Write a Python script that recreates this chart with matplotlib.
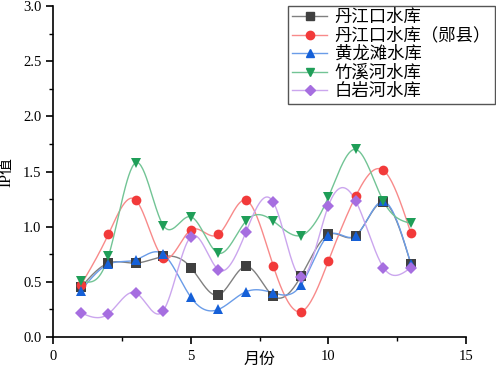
import numpy as np
import matplotlib
matplotlib.use("Agg")
import matplotlib.pyplot as plt
from matplotlib.ticker import MultipleLocator, FormatStrFormatter

plt.rcParams['font.family'] = ['Liberation Serif', 'Noto Sans CJK SC']
plt.rcParams['axes.unicode_minus'] = False

# ---------------------------------------------------------------------------
# data (IP value by month)
MONTHS = [1, 2, 3, 4, 5, 6, 7, 8, 9, 10, 11, 12, 13]
DJK = [0.45, 0.67, 0.67, 0.73, 0.63, 0.38, 0.64, 0.37, 0.55, 0.93, 0.92, 1.22, 0.66]
DJK_YX = [0.47, 0.93, 1.24, 0.72, 0.97, 0.93, 1.24, 0.64, 0.23, 0.69, 1.28, 1.51, 0.94]
HLT = [0.42, 0.66, 0.70, 0.75, 0.36, 0.25, 0.41, 0.40, 0.47, 0.92, 0.92, 1.23, 0.66]
ZXH = [0.51, 0.73, 1.58, 1.01, 1.09, 0.76, 1.05, 1.05, 0.92, 1.27, 1.70, 1.23, 1.03]
BYH = [0.22, 0.21, 0.40, 0.24, 0.91, 0.61, 0.95, 1.22, 0.54, 1.19, 1.23, 0.63, 0.63]

SERIES = [
    ("丹江口水库", DJK, "s", "#404040", "#808080"),
    ("丹江口水库（郧县）", DJK_YX, "o", "#f23a3a", "#f88a8a"),
    ("黄龙滩水库", HLT, "^", "#1560d8", "#6a9ce8"),
    ("竹溪河水库", ZXH, "v", "#1f9e58", "#72c495"),
    ("白岩河水库", BYH, "D", "#a66ee0", "#cba6ee"),
]


def natural_spline(x, y, n=400):
    """Natural cubic spline through the points (smooth line like Origin)."""
    x = np.asarray(x, float)
    y = np.asarray(y, float)
    k = len(x)
    h = np.diff(x)
    A = np.zeros((k, k))
    b = np.zeros(k)
    A[0, 0] = A[-1, -1] = 1.0
    for i in range(1, k - 1):
        A[i, i - 1] = h[i - 1]
        A[i, i] = 2 * (h[i - 1] + h[i])
        A[i, i + 1] = h[i]
        b[i] = 3 * ((y[i + 1] - y[i]) / h[i] - (y[i] - y[i - 1]) / h[i - 1])
    c = np.linalg.solve(A, b)
    xs = np.linspace(x[0], x[-1], n)
    idx = np.clip(np.searchsorted(x, xs) - 1, 0, k - 2)
    dx = xs - x[idx]
    bb = (y[idx + 1] - y[idx]) / h[idx] - h[idx] * (2 * c[idx] + c[idx + 1]) / 3
    dd = (c[idx + 1] - c[idx]) / (3 * h[idx])
    ys = y[idx] + bb * dx + c[idx] * dx ** 2 + dd * dx ** 3
    return xs, ys


fig = plt.figure(figsize=(4.96, 3.68), dpi=100)
ax = fig.add_axes([0.1075, 0.0842, 0.832, 0.8995])

handles = []
for label, vals, mk, mcol, lcol in SERIES:
    ms = 7 if mk != "D" else 6
    xs, ys = natural_spline(MONTHS, vals)
    ax.plot(xs, ys, color=lcol, linewidth=1.0, zorder=2)
    ax.plot(MONTHS, vals, linestyle="none", marker=mk, color=mcol,
            markersize=ms, markeredgewidth=0, zorder=3)
    # legend proxy: line + marker
    h, = ax.plot([], [], color=lcol, linewidth=1.0, marker=mk,
                 markerfacecolor=mcol, markeredgecolor=mcol,
                 markersize=ms - 1, label=label)
    handles.append(h)

ax.set_xlim(0, 15)
ax.set_ylim(0, 3.0)
ax.xaxis.set_major_locator(MultipleLocator(5))
ax.xaxis.set_minor_locator(MultipleLocator(2.5))
ax.yaxis.set_major_locator(MultipleLocator(0.5))
ax.yaxis.set_minor_locator(MultipleLocator(0.25))
ax.yaxis.set_major_formatter(FormatStrFormatter("%.1f"))
ax.spines["top"].set_visible(False)
ax.spines["right"].set_visible(False)
for s in ("left", "bottom"):
    ax.spines[s].set_linewidth(1.2)
ax.tick_params(which="major", direction="out", length=5, width=1.2,
               labelsize=10.5)
ax.tick_params(axis="x", which="major", pad=4)
ax.tick_params(which="minor", direction="out", length=3, width=1.0)

ax.set_xlabel("月份", fontsize=11.5)
ax.set_ylabel("IP值", fontsize=11.5)
ax.xaxis.set_label_coords(0.5, -0.046)
ax.yaxis.set_label_coords(-0.094, 0.5)

leg = ax.legend(handles=handles, loc="upper right", bbox_to_anchor=(1.07, 1.0),
                fontsize=12.5, frameon=True, fancybox=False, framealpha=1,
                edgecolor="#555555", handlelength=2.0, borderpad=0.22,
                labelspacing=0.12, handletextpad=0.45, borderaxespad=0.0)
leg.get_frame().set_linewidth(1.0)

fig.savefig("out.png", dpi=100)
